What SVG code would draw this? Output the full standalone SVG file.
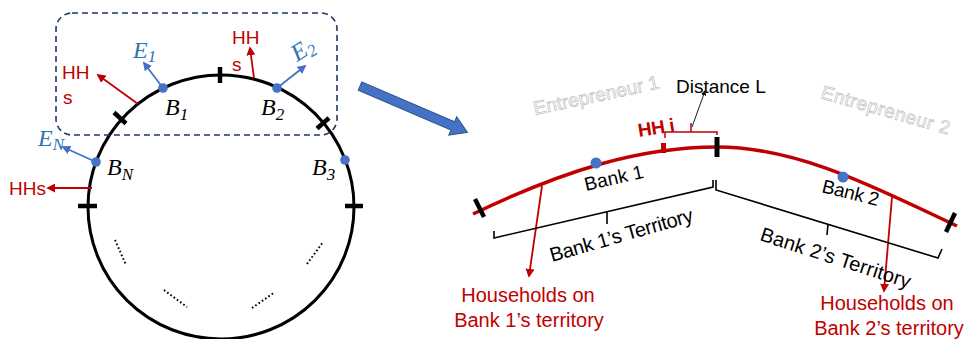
<svg xmlns="http://www.w3.org/2000/svg" width="967" height="339" viewBox="0 0 967 339">
<style>
.sans{font-family:"Liberation Sans",Arial,sans-serif}
.math{font-family:"Liberation Serif","DejaVu Serif",serif;font-style:italic}
.red{fill:#C00000}
.blue{fill:#2E75B6}
.tick{stroke:#000;stroke-width:4.5;fill:none}
.dots{stroke:#000;stroke-width:2;stroke-dasharray:1.6 2.4;fill:none}
.ra{stroke:#C00000;stroke-width:1.8;fill:none;marker-end:url(#mr)}
.ba{stroke:#4472C4;stroke-width:1.8;fill:none;marker-end:url(#mb)}
.brk{stroke:#000;stroke-width:1.6;fill:none}
.outline{fill:#fff;stroke:#BFBFBF;stroke-width:0.7}
.dot{fill:#4472C4}
</style>
<defs>
<marker id="mr" viewBox="0 0 10 10" refX="8" refY="5" markerWidth="5" markerHeight="5" orient="auto"><path d="M0,0 L10,5 L0,10 Z" fill="#C00000"/></marker>
<marker id="mb" viewBox="0 0 10 10" refX="8" refY="5" markerWidth="5" markerHeight="5" orient="auto"><path d="M0,0 L10,5 L0,10 Z" fill="#4472C4"/></marker>
<marker id="mk" viewBox="0 0 10 10" refX="8" refY="5" markerWidth="6" markerHeight="6" orient="auto"><path d="M0,0 L10,5 L0,10 Z" fill="#000"/></marker>
</defs>
<rect width="967" height="339" fill="#fff"/>

<!-- Left: circle model -->
<g id="circle">
<ellipse cx="221" cy="207" rx="133" ry="132" fill="none" stroke="#000" stroke-width="3"/>
<line class="tick" x1="220" y1="67" x2="220" y2="83"/>
<line class="tick" x1="114" y1="112.5" x2="126" y2="123.5"/>
<line class="tick" x1="317" y1="128.5" x2="329" y2="118"/>
<line class="tick" x1="78" y1="206" x2="97" y2="206"/>
<line class="tick" x1="345" y1="206" x2="363" y2="206"/>
<line class="dots" x1="115" y1="240" x2="126" y2="265"/>
<line class="dots" x1="164" y1="290" x2="187" y2="307"/>
<line class="dots" x1="252" y1="308" x2="275" y2="292"/>
<line class="dots" x1="307" y1="264" x2="323" y2="242"/>
</g>
<g id="region">
<rect x="56" y="13" width="281" height="122" rx="16" fill="none" stroke="#203864" stroke-width="1.6" stroke-dasharray="6 4"/>
</g>
<g id="connectors">
<line class="ba" x1="163" y1="88" x2="144" y2="63"/>
<line class="ba" x1="277" y1="88" x2="305" y2="66"/>
<line class="ba" x1="96" y1="162" x2="63" y2="147"/>
<line class="ra" x1="138" y1="104" x2="98" y2="75"/>
<line class="ra" x1="254" y1="78" x2="250" y2="48"/>
<line class="ra" x1="92" y1="188" x2="48" y2="188"/>
<line class="ra" x1="542" y1="186" x2="529" y2="276"/>
<line class="ra" x1="892" y1="197" x2="884" y2="291"/>
<line x1="692" y1="127" x2="705" y2="91" stroke="#000" stroke-width="0.9" marker-end="url(#mk)"/>
</g>
<g id="B1"><circle class="dot" cx="163" cy="88" r="4.8"/><text class="math" x="165" y="115" font-size="24">B<tspan font-size="17" dy="5">1</tspan></text></g>
<g id="B2"><circle class="dot" cx="277" cy="88" r="4.8"/><text class="math" x="261" y="115" font-size="24">B<tspan font-size="17" dy="5">2</tspan></text></g>
<g id="BN"><circle class="dot" cx="96" cy="162" r="4.8"/><text class="math" x="107" y="175" font-size="24">B<tspan font-size="17" dy="5">N</tspan></text></g>
<g id="B3"><circle class="dot" cx="345" cy="160" r="4.8"/><text class="math" x="312" y="175" font-size="24">B<tspan font-size="17" dy="5">3</tspan></text></g>
<g id="E1"><text class="math blue" x="133" y="58" font-size="24">E<tspan font-size="17" dy="4">1</tspan></text></g>
<g id="E2"><text class="math blue" transform="translate(297,62) rotate(-32)" font-size="24">E<tspan font-size="17" dy="4">2</tspan></text></g>
<g id="EN"><text class="math blue" x="38" y="146" font-size="24">E<tspan font-size="17" dy="4">N</tspan></text></g>
<g id="HH-left"><text class="sans red" x="62" y="79" font-size="19">HH</text><text class="sans red" x="63" y="104" font-size="19">s</text></g>
<g id="HH-top"><text class="sans red" x="232" y="44" font-size="19">HH</text><text class="sans red" x="232" y="71" font-size="19">s</text></g>
<g id="HHs"><text class="sans red" x="9" y="195" font-size="19">HHs</text></g>

<!-- Big arrow -->
<g id="big-arrow" transform="translate(360,86) rotate(23.3)">
<polygon points="0,-4.5 101,-4.5 101,-10 117,0 101,10 101,4.5 0,4.5" fill="#4472C4" stroke="#2F528F" stroke-width="1"/>
</g>

<!-- Right: line model -->
<g id="line">
<path d="M473,214 C565,170 640,147 717,147 C800,147 880,190 957,226" fill="none" stroke="#C00000" stroke-width="3.5"/>
<line class="tick" x1="475" y1="199" x2="484" y2="217"/>
<line class="tick" x1="946" y1="232" x2="955" y2="213"/>
<line x1="717" y1="137" x2="717" y2="157" stroke="#000" stroke-width="5"/>
<rect x="661" y="143" width="5" height="10" fill="#C00000"/>
<path d="M665,138 L665,132 L717,132 L717,135 M691,132 L691,123" fill="none" stroke="#C00000" stroke-width="1.5"/>
</g>
<g id="bank1"><circle class="dot" cx="596" cy="163" r="5.5"/><text class="sans" transform="translate(586,191) rotate(-13)" font-size="19" textLength="60">Bank 1</text></g>
<g id="bank2"><circle class="dot" cx="843" cy="177" r="5.5"/><text class="sans" transform="translate(821,192) rotate(14)" font-size="19" textLength="58">Bank 2</text></g>
<g id="hhi"><text class="sans red" transform="translate(639,137) rotate(-9)" font-size="19" font-weight="bold" textLength="37">HH i</text></g>
<g id="distance"><text class="sans" x="676" y="93" font-size="19">Distance L</text></g>
<g id="ent1"><text class="sans outline" transform="translate(535,115) rotate(-12)" font-size="19" textLength="128">Entrepreneur 1</text></g>
<g id="ent2"><text class="sans outline" transform="translate(820,98) rotate(16)" font-size="19" textLength="133">Entrepreneur 2</text></g>
<g id="territory1">
<path class="brk" d="M494,231 L494,238 L713,187 L713,180 M607,212 L607,224"/>
<text class="sans" transform="translate(552,262) rotate(-16)" font-size="20" textLength="148">Bank 1’s Territory</text>
</g>
<g id="territory2">
<path class="brk" d="M716,180 L716,190 L938,258 L942,249 M828,224 L827,235"/>
<text class="sans" transform="translate(759,240) rotate(18)" font-size="20" textLength="157">Bank 2’s Territory</text>
</g>
<g id="households1"><text class="sans red" font-size="20" text-anchor="middle"><tspan x="528" y="302">Households on</tspan><tspan x="529" y="327">Bank 1’s territory</tspan></text></g>
<g id="households2"><text class="sans red" font-size="20" text-anchor="middle"><tspan x="887" y="310">Households on</tspan><tspan x="889" y="335">Bank 2’s territory</tspan></text></g>
</svg>
